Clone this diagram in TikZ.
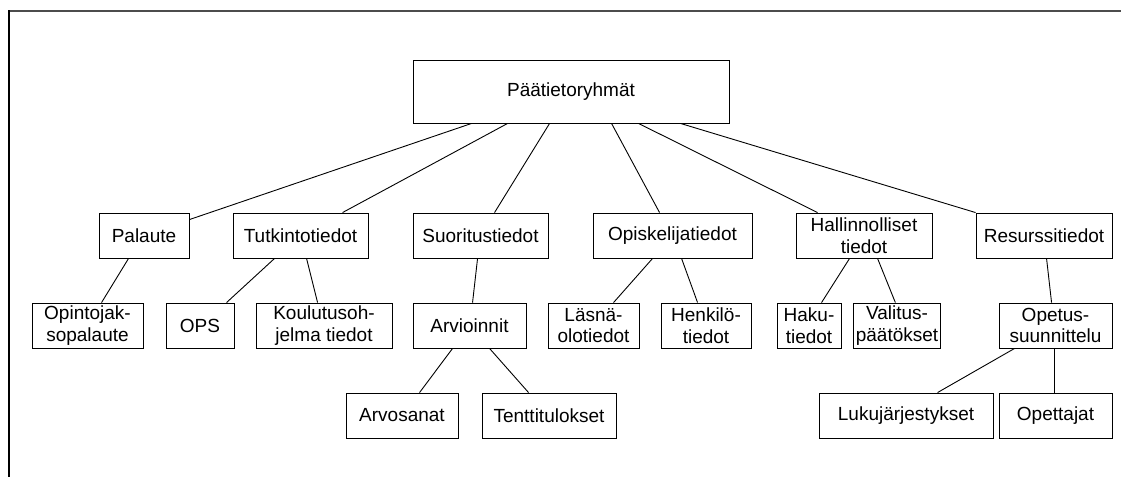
\documentclass[tikz,border=0pt]{standalone}
\usepackage{fontspec}
\setmainfont{Liberation Sans}
\begin{document}
\begin{tikzpicture}[x=1pt,y=-1pt,
  box/.style={draw=black, line width=0.9pt, fill=white, align=center, inner sep=2pt,
              font=\fontsize{19}{21.5}\selectfont, minimum height=45pt},
  link/.style={draw=black, line width=0.9pt}]
\useasboundingbox (0,0) rectangle (1121,477);
% frame lines
\draw[line width=2pt, draw=black!70] (9,11) -- (1121,11);
\draw[line width=1.2pt, draw=black] (9,10) -- (9,477);

% root
\node[box, minimum width=316pt, minimum height=63pt] (paa) at (571,91.5) {Päätietoryhmät};

% first level
\node[box, minimum width=90pt]  (palaute)  at (144,235.5)    {Palaute};
\node[box, minimum width=135pt] (tutk)     at (300.5,235.5)  {Tutkintotiedot};
\node[box, minimum width=135pt] (suor)     at (480.5,235.5)  {Suoritustiedot};
\node[box, minimum width=159pt] (opisk)    at (672.5,235.5)  {Opiskelijatiedot};
\node[box, minimum width=136pt] (hall)     at (864,235.5)    {Hallinnolliset\\tiedot};
\node[box, minimum width=136pt] (resurssi) at (1044,235.5)   {Resurssitiedot};

% second level
\node[box, minimum width=111pt] (opjakso)  at (87.5,325.5)   {Opintojak-\\sopalaute};
\node[box, minimum width=68pt]  (ops)      at (200,325.5)    {OPS};
\node[box, minimum width=136pt] (koul)     at (324,325.5)    {Koulutusoh-\\jelma tiedot};
\node[box, minimum width=113pt] (arv)      at (469.5,325.5)  {Arvioinnit};
\node[box, minimum width=91pt]  (lasna)    at (593.5,325.5)  {Läsnä-\\olotiedot};
\node[box, minimum width=90pt]  (henk)     at (706,325.5)    {Henkilö-\\tiedot};
\node[box, minimum width=64pt]  (haku)     at (809,325.5)    {Haku-\\tiedot};
\node[box, minimum width=66pt]  (valitus)  at (897,325.5)    {Valitus-\\päätökset};
\node[box, minimum width=113pt] (opetus)   at (1055.5,325.5) {Opetus-\\suunnittelu};

% third level
\node[box, minimum width=112pt] (arvosanat) at (402,415.5)    {Arvosanat};
\node[box, minimum width=134pt] (tentti)    at (549,415.5)    {Tenttitulokset};
\node[box, minimum width=174pt] (luku)      at (906,415.5)    {Lukujärjestykset};
\node[box, minimum width=113pt] (opettajat) at (1055.5,415.5) {Opettajat};

% root connectors
\draw[link] ([xshift=59pt]paa.south west)  -- ([yshift=-7pt]palaute.north east);
\draw[link] ([xshift=95pt]paa.south west)  -- ([xshift=110pt]tutk.north west);
\draw[link] ([xshift=137pt]paa.south west) -- ([xshift=82pt]suor.north west);
\draw[link] ([xshift=199pt]paa.south west) -- ([xshift=67pt]opisk.north west);
\draw[link] ([xshift=226pt]paa.south west) -- ([xshift=22pt]hall.north west);
\draw[link] ([xshift=268pt]paa.south west) -- (resurssi.north west);

% second level connectors
\draw[link] ([xshift=30pt]palaute.south west) -- ([xshift=70pt]opjakso.north west);
\draw[link] ([xshift=42pt]tutk.south west)    -- ([xshift=61pt]ops.north west);
\draw[link] ([xshift=74pt]tutk.south west)    -- ([xshift=62pt]koul.north west);
\draw[link] ([xshift=65pt]suor.south west)    -- ([xshift=60pt]arv.north west);
\draw[link] ([xshift=60pt]opisk.south west)   -- ([xshift=66pt]lasna.north west);
\draw[link] ([xshift=89pt]opisk.south west)   -- ([xshift=37pt]henk.north west);
\draw[link] ([xshift=54pt]hall.south west)    -- ([xshift=45pt]haku.north west);
\draw[link] ([xshift=82pt]hall.south west)    -- ([xshift=42pt]valitus.north west);
\draw[link] ([xshift=71pt]resurssi.south west) -- ([xshift=53pt]opetus.north west);

% third level connectors
\draw[link] ([xshift=40pt]arv.south west)    -- ([xshift=74pt]arvosanat.north west);
\draw[link] ([xshift=77pt]arv.south west)    -- ([xshift=47pt]tentti.north west);
\draw[link] ([xshift=16pt]opetus.south west) -- ([xshift=119pt]luku.north west);
\draw[link] ([xshift=56pt]opetus.south west) -- ([xshift=56pt]opettajat.north west);
\end{tikzpicture}
\end{document}
